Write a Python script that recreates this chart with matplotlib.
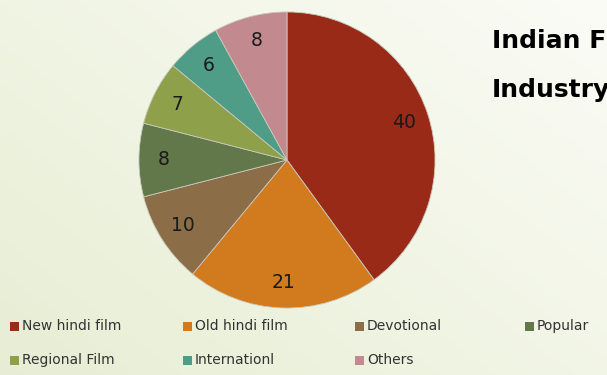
import numpy as np
import matplotlib
matplotlib.use("Agg")
import matplotlib.pyplot as plt
from matplotlib.patches import Rectangle

categories = ["New hindi film", "Old hindi film", "Devotional", "Popular",
              "Regional Film", "Internationl", "Others"]
values = [40, 21, 10, 8, 7, 6, 8]
colors = ["#992a18", "#d27a1e", "#8b6d47", "#62774a", "#8ea04a", "#4f9c87", "#c28a8e"]

W, H = 607, 375
fig = plt.figure(figsize=(W / 100, H / 100), dpi=100)

# soft diagonal background: pale green lower-left fading to near white upper-right
bg = fig.add_axes([0, 0, 1, 1])
bg.set_axis_off()
yy, xx = np.mgrid[0:1:200j, 0:1:300j]
t = np.clip(0.55 * xx + 0.45 * (1 - yy) + 0.05, 0, 1)  # yy=0 is the top row
c0 = np.array([0xe6, 0xed, 0xd2]) / 255
c1 = np.array([0xfa, 0xfb, 0xf4]) / 255
img = c0[None, None, :] * (1 - t[..., None]) + c1[None, None, :] * t[..., None]
bg.imshow(img, extent=[0, 1, 0, 1], aspect="auto", origin="upper")
bg.set_xlim(0, 1)
bg.set_ylim(0, 1)

# pie
cx, cy, r = 287, 160, 151
ax = fig.add_axes([(cx - r) / W, (H - cy - r) / H, 2 * r / W, 2 * r / H])
wedges, texts, autotexts = ax.pie(
    values, colors=colors, startangle=90, counterclock=False,
    autopct=lambda p: f"{p * sum(values) / 100:.0f}", pctdistance=0.83,
    wedgeprops=dict(edgecolor="#c9c9bd", linewidth=0.6),
    textprops=dict(fontsize=13.5, color="#1a1a1a", family="DejaVu Sans"),
)
ax.set_xlim(-1.02, 1.02)
ax.set_ylim(-1.02, 1.02)
ax.set_aspect("equal")

# title (runs past the right edge)
fig.text(492 / W, 1 - 48 / H, "Indian Film", fontsize=18, fontweight="bold",
         color="#000000", ha="left", va="baseline", family="DejaVu Sans")
fig.text(492 / W, 1 - 97 / H, "Industry", fontsize=18, fontweight="bold",
         color="#000000", ha="left", va="baseline", family="DejaVu Sans")

# legend, laid out in four columns
col_x = [10, 183, 355, 525]
row_y = [326, 360]
for i, (name, col) in enumerate(zip(categories, colors)):
    x0 = col_x[i % 4]
    y0 = row_y[i // 4]
    bg.add_patch(Rectangle((x0 / W, 1 - (y0 + 5) / H), 9 / W, 9 / H,
                           facecolor=col, edgecolor="none"))
    bg.text((x0 + 12) / W, 1 - y0 / H, name, fontsize=10, color="#333333",
            ha="left", va="center", family="DejaVu Sans")

fig.savefig("out.png", dpi=100)
